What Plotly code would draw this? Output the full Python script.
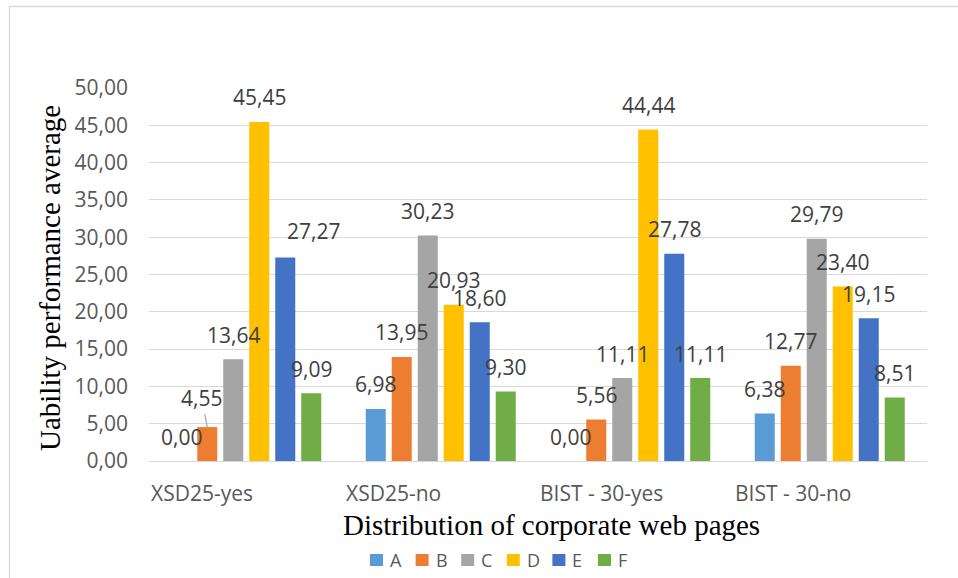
import plotly.graph_objects as go

# ---- data ----
categories = ["XSD25-yes", "XSD25-no", "BIST - 30-yes", "BIST - 30-no"]
series_names = ["A", "B", "C", "D", "E", "F"]
values_A = [0.00, 6.98, 0.00, 6.38]
values_B = [4.55, 13.95, 5.56, 12.77]
values_C = [13.64, 30.23, 11.11, 29.79]
values_D = [45.45, 20.93, 44.44, 23.40]
values_E = [27.27, 18.60, 27.78, 19.15]
values_F = [9.09, 9.30, 11.11, 8.51]
y_ticks = [0, 5, 10, 15, 20, 25, 30, 35, 40, 45, 50]

series_values = [values_A, values_B, values_C, values_D, values_E, values_F]
colors = ["#5B9BD5", "#ED7D31", "#A5A5A5", "#FFC000", "#4472C4", "#70AD47"]

# ---- layout geometry (pixels) ----
W, H = 958, 578
ML, MR, MT, MB = 149, 31, 88, 117
BARGAP = 0.198
BARGROUPGAP = 0.23
SLOT = (1 - BARGAP) / len(series_names)

SANS = "Open Sans"
SERIF = "Liberation Serif"


def paper_x(px):
    return (px - ML) / (W - ML - MR)


def paper_y(py):
    return (H - MB - py) / (H - MT - MB)


def fmt(v):
    return f"{v:.2f}".replace(".", ",")


fig = go.Figure()
for name, vals, col in zip(series_names, series_values, colors):
    fig.add_trace(go.Bar(
        x=categories, y=vals, name=name,
        marker=dict(color=col, line=dict(width=0)),
        showlegend=False,
    ))

# data labels: default sits above the bar end; a few are nudged aside
label_font = dict(family=SANS, size=21, color="#404040")
nudges = {(4, 0): (28, 27)}
annotations = []
for j, vals in enumerate(series_values):
    for i, v in enumerate(vals):
        xc = i + (j - (len(series_names) - 1) / 2) * SLOT
        if (j, i) == (1, 0):
            # label pulled up-left with a leader line back to the bar
            annotations.append(dict(
                x=xc, y=v, xref="x", yref="y", text=fmt(v),
                showarrow=True, ax=-5.5, ay=-29.5, arrowhead=0,
                arrowwidth=1.2, arrowcolor="#A6A6A6", standoff=0,
                borderpad=2, font=label_font,
            ))
            continue
        dx, dy = nudges.get((j, i), (0, 24.5))
        annotations.append(dict(
            x=xc, y=v, xref="x", yref="y", text=fmt(v),
            showarrow=False, xshift=dx, yshift=dy,
            xanchor="center", yanchor="middle", font=label_font,
        ))

# category labels, left-aligned within each category band
for i, cat in enumerate(categories):
    annotations.append(dict(
        x=i - 0.5, y=paper_y(493), xref="x", yref="paper", text=cat,
        showarrow=False, xanchor="left", yanchor="middle", xshift=0,
        font=dict(family=SANS, size=21, color="#595959"),
    ))

# axis titles
annotations.append(dict(
    x=paper_x(551), y=paper_y(525), xref="paper", yref="paper",
    text="Distribution of corporate web pages", showarrow=False,
    xanchor="center", yanchor="middle",
    font=dict(family=SERIF, size=29, color="#000000"),
))
annotations.append(dict(
    x=paper_x(50), y=paper_y(278), xref="paper", yref="paper",
    text="Uability performance average", showarrow=False, textangle=-90,
    xanchor="center", yanchor="middle",
    font=dict(family=SERIF, size=29, color="#000000"),
))

# legend row
shapes = []
leg_x0, leg_step, leg_y = 370, 45.6, 560
for k, (name, col) in enumerate(zip(series_names, colors)):
    sx = leg_x0 + k * leg_step
    shapes.append(dict(
        type="rect", xref="paper", yref="paper",
        x0=paper_x(sx), x1=paper_x(sx + 13),
        y0=paper_y(leg_y + 6), y1=paper_y(leg_y - 6),
        fillcolor=col, line=dict(width=0),
    ))
    annotations.append(dict(
        x=paper_x(sx + 18), y=paper_y(leg_y), xref="paper", yref="paper",
        text=name, showarrow=False, xanchor="left", yanchor="middle",
        font=dict(family=SANS, size=18, color="#595959"),
    ))

# chart frame
shapes.append(dict(
    type="rect", xref="paper", yref="paper",
    x0=paper_x(9.5), x1=paper_x(962), y0=paper_y(595), y1=paper_y(6.5),
    line=dict(color="#D9D9D9", width=1.3), fillcolor="rgba(0,0,0,0)",
    layer="below",
))

fig.update_layout(
    width=W, height=H, autosize=False,
    margin=dict(l=ML, r=MR, t=MT, b=MB, pad=0),
    paper_bgcolor="white", plot_bgcolor="white",
    barmode="group", bargap=BARGAP, bargroupgap=BARGROUPGAP,
    separators=",.",
    showlegend=False,
    annotations=annotations, shapes=shapes,
    xaxis=dict(
        showticklabels=False, showgrid=False, zeroline=False,
        showline=False, ticks="", range=[-0.5, 3.5],
    ),
    yaxis=dict(
        range=[0, 50], tickvals=y_ticks, tickformat=".2f",
        showgrid=True, gridcolor="#D9D9D9", gridwidth=1.3,
        zeroline=True, zerolinecolor="#D9D9D9", zerolinewidth=1.3,
        showline=False, ticks="", ticklabelstandoff=20,
        tickfont=dict(family=SANS, size=21, color="#595959"),
    ),
)

fig.write_html("out.html")
